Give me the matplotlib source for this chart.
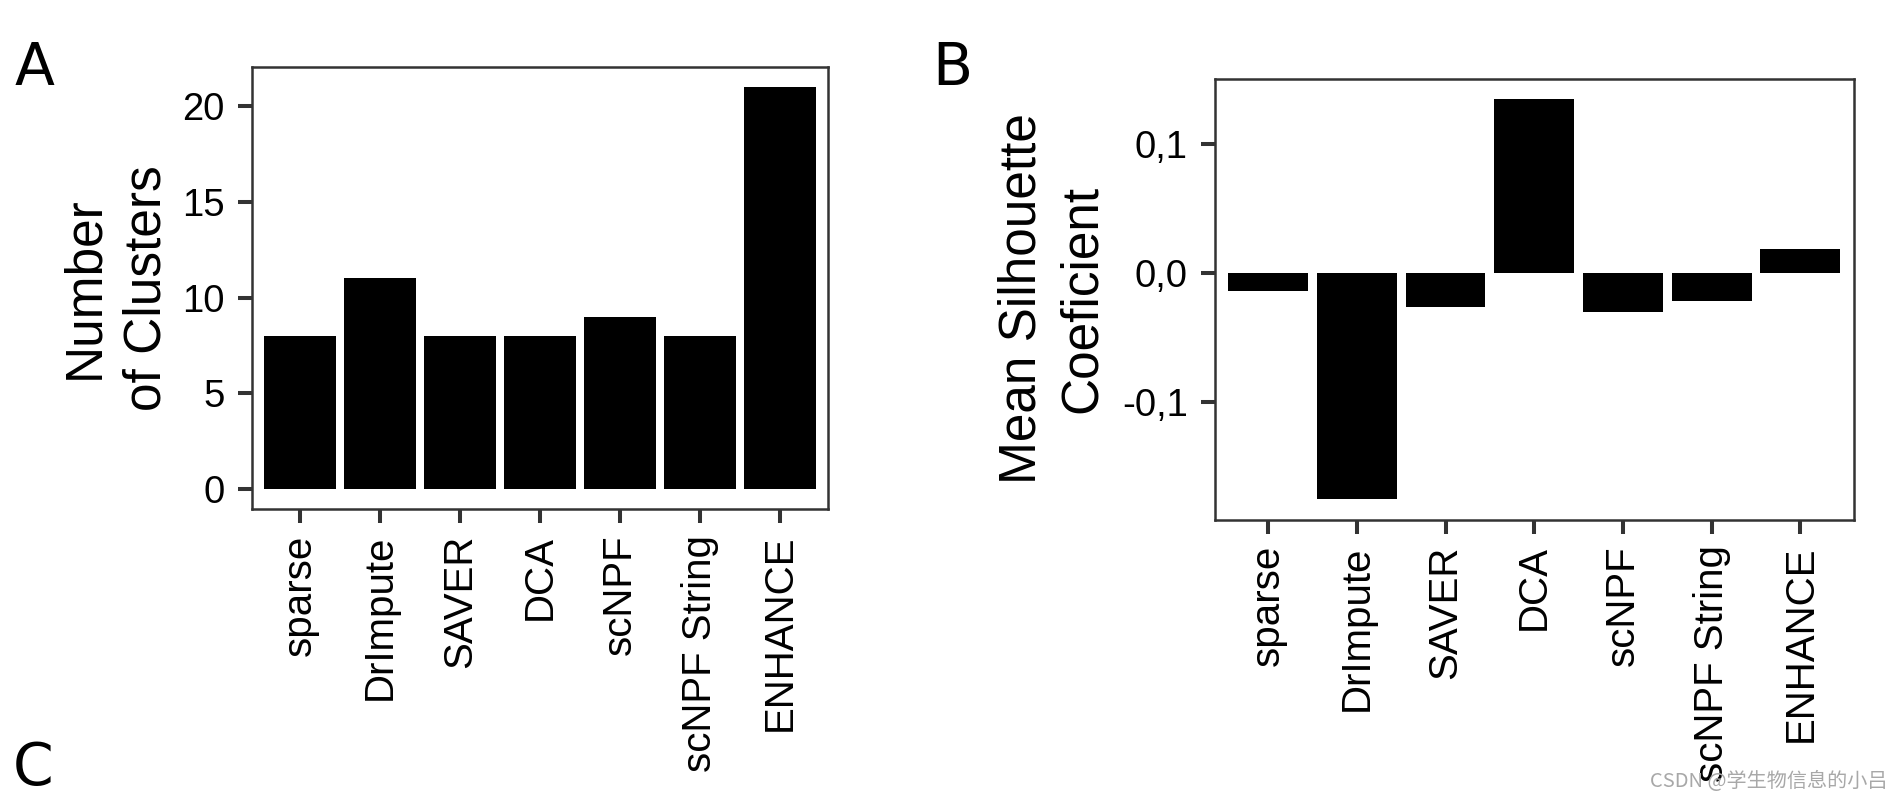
import matplotlib
matplotlib.use("Agg")
import matplotlib.pyplot as plt
import numpy as np

plt.rcParams['font.family'] = ['Liberation Sans', 'DejaVu Sans']

# ---- data ----
methods = ["sparse", "DrImpute", "SAVER", "DCA", "scNPF", "scNPF String", "ENHANCE"]
n_clusters = [8, 11, 8, 8, 9, 8, 21]
silhouette = [-0.0138, -0.1752, -0.0257, 0.1355, -0.0296, -0.0212, 0.0186]
yticks_a = [0, 5, 10, 15, 20]
yticks_b = [-0.1, 0.0, 0.1]
yticklabels_b = ["-0,1", "0,0", "0,1"]
panel_letters = ["A", "B", "C"]
watermark = "CSDN @学生物信息的小吕"

W, H = 1904, 797
fig = plt.figure(figsize=(W / 100, H / 100), dpi=100)
fig.patch.set_facecolor("white")

frame_col = "#333333"


def style_axes(ax):
    for s in ax.spines.values():
        s.set_color(frame_col)
        s.set_linewidth(1.8)
    ax.tick_params(axis="both", length=10, width=2.9, color=frame_col)
    ax.tick_params(axis="y", labelsize=27.5, pad=9.5, labelcolor="black")
    ax.tick_params(axis="x", labelsize=29, pad=8.5, labelcolor="black")


def ggplot_limits(vals):
    lo = min(0, min(vals))
    hi = max(0, max(vals))
    e = (hi - lo) * 0.05
    return lo - e, hi + e


x = np.arange(1, len(methods) + 1)

# ---- panel A ----
axA = fig.add_axes([252 / W, 1 - 509 / H, 576 / W, 442 / H])
axA.bar(x, n_clusters, width=0.9, color="black", edgecolor="none")
axA.set_xlim(0.4, len(methods) + 0.6)
axA.set_ylim(*ggplot_limits(n_clusters))
axA.set_yticks(yticks_a)
axA.set_xticks(x)
axA.set_xticklabels(methods, rotation=90, ha="center", va="top")
style_axes(axA)
axA.set_ylabel("Number\nof Clusters", fontsize=37, linespacing=1.35)
axA.yaxis.set_label_coords(-0.139, 0.5)

# ---- panel B ----
axB = fig.add_axes([1215 / W, 1 - 519.5 / H, 638.5 / W, 441 / H])
axB.bar(x, silhouette, width=0.9, color="black", edgecolor="none")
axB.set_xlim(0.4, len(methods) + 0.6)
axB.set_ylim(*ggplot_limits(silhouette))
axB.set_yticks(yticks_b)
axB.set_yticklabels(yticklabels_b)
axB.set_xticks(x)
axB.set_xticklabels(methods, rotation=90, ha="center", va="top")
style_axes(axB)
axB.set_ylabel("Mean Silhouette\nCoeficient", fontsize=37, linespacing=1.3)
axB.yaxis.set_label_coords(-0.170, 0.5)

# ---- panel letters ----
letter_pos = [(15, 85), (932, 85), (13, 785)]
for lab, (px, py) in zip(panel_letters, letter_pos):
    fig.text(px / W, 1 - py / H, lab, fontsize=42, family="DejaVu Sans",
             ha="left", va="baseline", color="black")

# ---- watermark ----
fig.text(1888 / W, 1 - 787 / H, watermark, fontsize=14.5,
         family=["Noto Sans CJK SC", "DejaVu Sans"], color="#a8a8a8",
         ha="right", va="baseline")

fig.savefig("out.png", dpi=100, facecolor="white")
